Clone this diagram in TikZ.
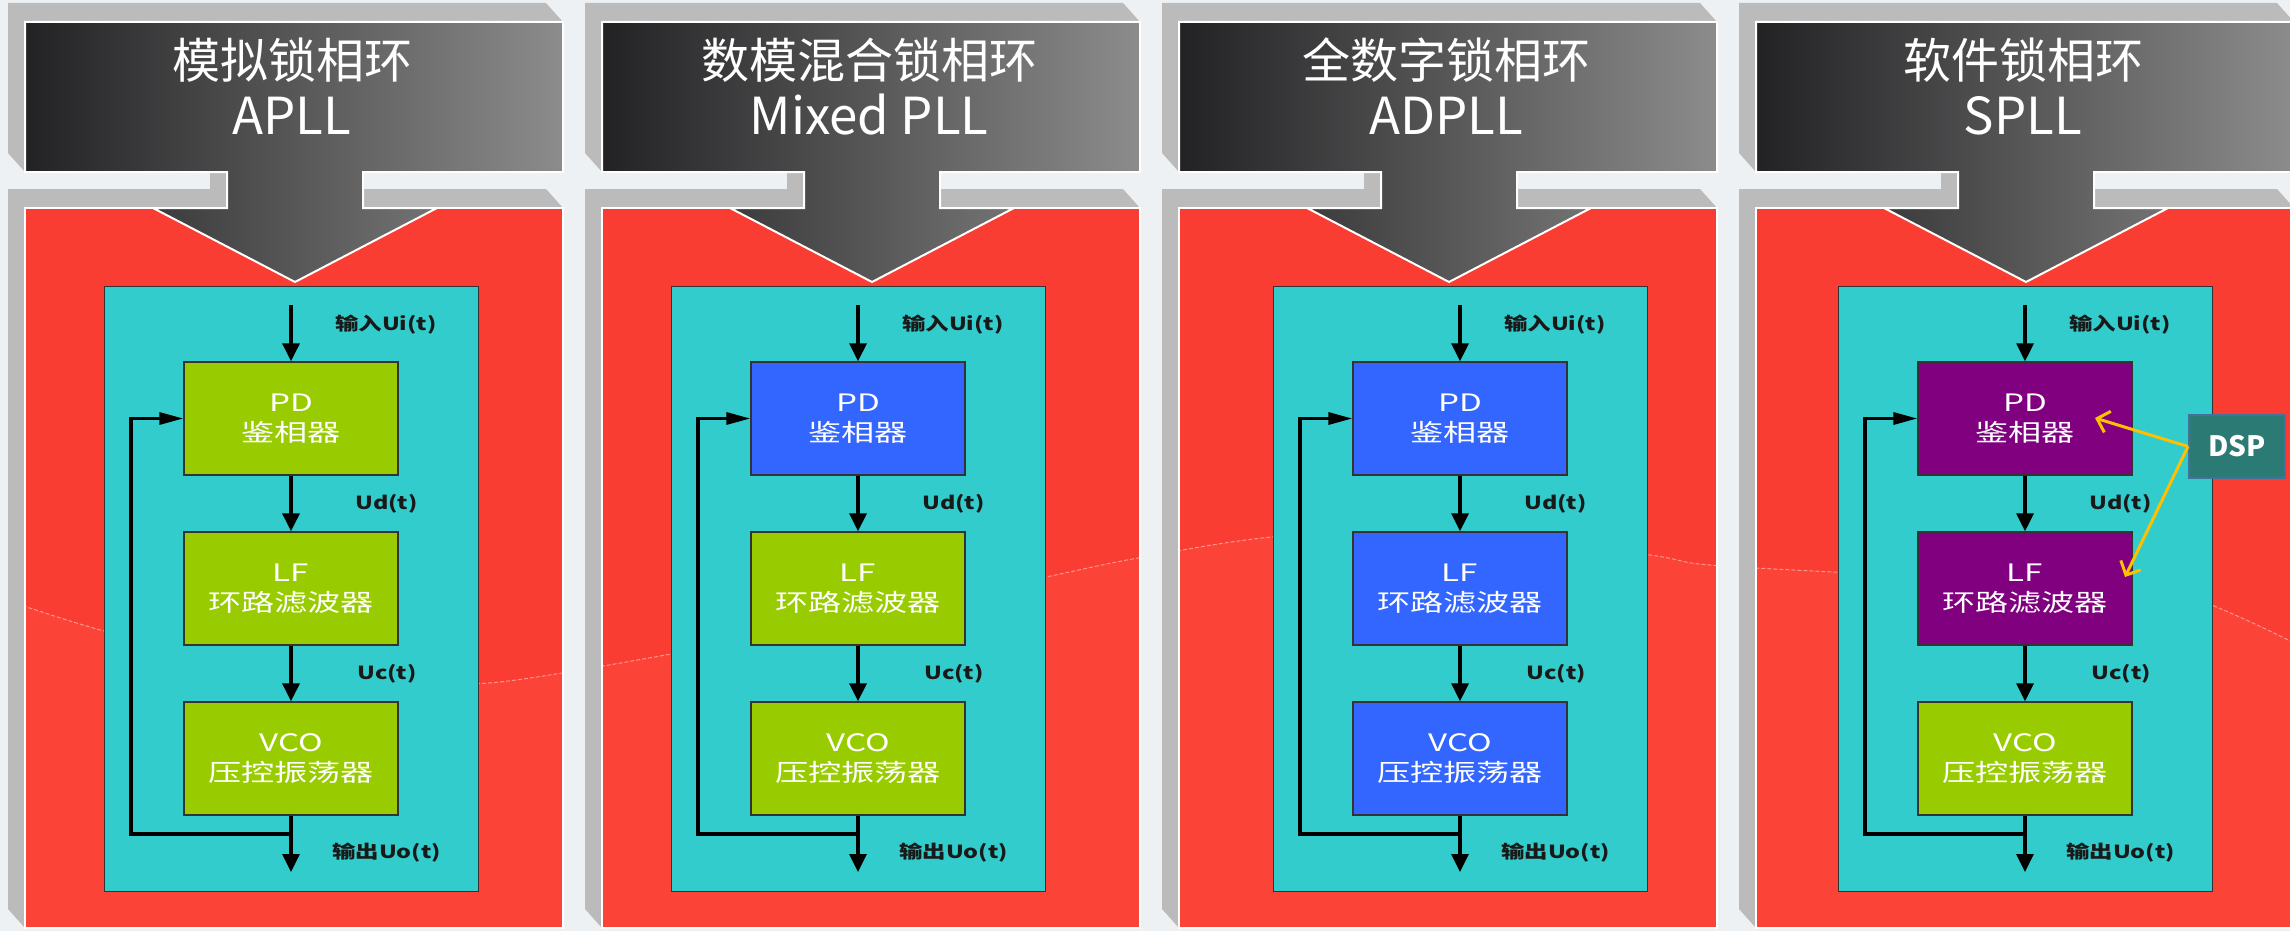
\documentclass[tikz,border=0pt]{standalone}
\usepackage{graphicx}
\usepackage{fontspec}
\newfontfamily\cjk{Noto Sans CJK SC}
\usetikzlibrary{arrows.meta}
\definecolor{bgc}{HTML}{EDF1F4}
\definecolor{bevel}{HTML}{BBBBBB}
\definecolor{redc}{HTML}{F93D33}
\definecolor{redl}{HTML}{FC4337}
\definecolor{tealc}{HTML}{33CCCC}
\definecolor{greenc}{HTML}{99CC00}
\definecolor{bluec}{HTML}{3366FF}
\definecolor{purplec}{HTML}{800080}
\definecolor{hdark}{HTML}{222224}
\definecolor{hlight}{HTML}{8C8C8C}
\definecolor{dspc}{HTML}{2B7A74}
\definecolor{dspb}{HTML}{41719C}
\definecolor{gold}{HTML}{FFC000}
\tikzset{
  blk/.style={draw=black!80, line width=1.3pt, minimum width=214pt, minimum height=113pt, inner sep=0pt},
  btxt/.style={text=white, font=\cjk\fontsize{24}{24}\selectfont, anchor=base, inner sep=0pt},
  lbl/.style={text=black!90, font=\cjk\bfseries\fontsize{18}{18}\selectfont, anchor=base west, inner sep=0pt},
  flow/.style={line width=3.2pt, -{Triangle[width=17pt,length=18pt]}},
  fback/.style={line width=3.2pt, -{Triangle[width=12pt,length=24pt]}},
  htxt/.style={text=white, anchor=base, inner sep=0pt},
  tealbox/.style={draw=black!80, fill=tealc, line width=1.3pt, minimum width=374pt, minimum height=605pt, inner sep=0pt, anchor=north west},
}
% base: bevels and red panel
\newcommand\pllbase[1]{%
\begin{scope}[xshift=#1pt]
 \fill[bevel] (8,3) -- (546,3) -- (563,22) -- (563,172) -- (25,172) -- (8,153) -- cycle;
 \fill[bevel] (210,153) rectangle (346,189);
 \fill[bevel] (8,189) -- (546,189) -- (563,208) -- (563,928) -- (25,928) -- (8,909) -- cycle;
 \fill[redc] (25,208) rectangle (563,928);
\end{scope}}
% header arrow with titles
\newcommand\pllhead[4]{%
\begin{scope}[xshift=#1pt]
 \draw[white, line width=1.5pt] (25,208) rectangle (563,928);
 \shadedraw[left color=hdark, right color=hlight, draw=white, line width=2pt]
   (25,22) -- (563,22) -- (563,172) -- (363,172) -- (363,208) -- (437,208) -- (295,282)
   -- (153,208) -- (227,208) -- (227,172) -- (25,172) -- cycle;
 \node[htxt, font=\cjk\fontsize{48}{48}\selectfont] (ta#4) at (292,79) {#2};
 \node[htxt, font=\cjk\fontsize{51}{51}\selectfont] (tb#4) at (292,135) {#3};
\end{scope}}
% loop diagram
\newcommand\pllcol[5]{%
\begin{scope}[xshift=#1pt]
 \node[tealbox] (T#5) at (104,286) {};
 \node[blk, fill=#2] (PD#5) at (291,418.5) {};
 \node[blk, fill=#3] (LF#5) at (291,588.5) {};
 \node[blk, fill=#4] (VCO#5) at (291,758.5) {};
 \node[btxt] (PDa#5) at (291,411) {\scalebox{1.38}[1]{PD}};
 \node[btxt] (PDb#5) at (291,441) {\scalebox{1.38}[1]{鉴相器}};
 \node[btxt] (LFa#5) at (291,581) {\scalebox{1.38}[1]{LF}};
 \node[btxt] (LFb#5) at (291,611) {\scalebox{1.38}[1]{环路滤波器}};
 \node[btxt] (VCOa#5) at (291,751) {\scalebox{1.38}[1]{VCO}};
 \node[btxt] (VCOb#5) at (291,781) {\scalebox{1.38}[1]{压控振荡器}};
 \coordinate (in#5) at (291,305);
 \coordinate (out#5) at (291,872);
 \coordinate (j#5) at (291,834);
 \coordinate (fc#5) at (131,418.5);
 \draw[flow] (in#5) -- (PD#5);
 \draw[flow] (PD#5) -- (LF#5);
 \draw[flow] (LF#5) -- (VCO#5);
 \draw[flow] (VCO#5) -- (out#5);
 \draw[fback] (j#5) -| (fc#5) -- (PD#5);
 \node[lbl] (li#5) at (335,330) {\scalebox{1.3}[1]{输入Ui(t)}};
 \node[lbl] (ld#5) at (355,509) {\scalebox{1.3}[1]{Ud(t)}};
 \node[lbl] (lc#5) at (357,679) {\scalebox{1.3}[1]{Uc(t)}};
 \node[lbl] (lo#5) at (332,858) {\scalebox{1.3}[1]{输出Uo(t)}};
\end{scope}}
\begin{document}
\begin{tikzpicture}[x=1pt,y=-1pt]
\useasboundingbox (0,0) rectangle (2290,931);
\clip (0,0) rectangle (2290,931);
\fill[bgc] (0,0) rectangle (2290,931);
\pllbase{0}\pllbase{577}\pllbase{1154}\pllbase{1731}
% faint background curve on the red panels
\begin{scope}
 \clip (25,208) rectangle (563,928) (602,208) rectangle (1140,928)
       (1179,208) rectangle (1717,928) (1756,208) rectangle (2294,928);
 \fill[redl] plot[smooth] coordinates {(0,598) (104,631) (250,665) (440,682) (530,678) (800,630)
   (1046,577) (1138,558) (1272,537) (1450,530) (1650,555) (1710,565) (1900,575) (2143,583) (2300,646)}
   -- (2300,940) -- (0,940) -- cycle;
 \draw[white, opacity=0.45, line width=1pt, dash pattern=on 4pt off 2pt] plot[smooth] coordinates {(0,598) (104,631) (250,665) (440,682) (530,678) (800,630)
   (1046,577) (1138,558) (1272,537) (1450,530) (1650,555) (1710,565) (1900,575) (2143,583) (2300,646)};
\end{scope}
\pllhead{0}{模拟锁相环}{APLL}{1}
\pllhead{577}{数模混合锁相环}{Mixed PLL}{2}
\pllhead{1154}{全数字锁相环}{ADPLL}{3}
\pllhead{1731}{软件锁相环}{SPLL}{4}
\pllcol{0}{greenc}{greenc}{greenc}{1}
\pllcol{567}{bluec}{greenc}{greenc}{2}
\pllcol{1169}{bluec}{bluec}{bluec}{3}
\pllcol{1734}{purplec}{purplec}{greenc}{4}
% DSP
\node[fill=dspc, draw=dspb, line width=2pt, minimum width=96pt, minimum height=63pt, inner sep=0pt,
      text=white, font=\cjk\bfseries\fontsize{28}{28}\selectfont] (DSP) at (2237,446.5) {DSP};
\coordinate (dpd) at (2095,418);
\coordinate (dlf) at (2125,577);
\draw[gold, line width=3pt, -{Straight Barb[length=11pt,width=22pt]}] (DSP.west) -- (dpd);
\draw[gold, line width=3pt, -{Straight Barb[length=11pt,width=22pt]}] (DSP.west) -- (dlf);
\end{tikzpicture}
\end{document}
